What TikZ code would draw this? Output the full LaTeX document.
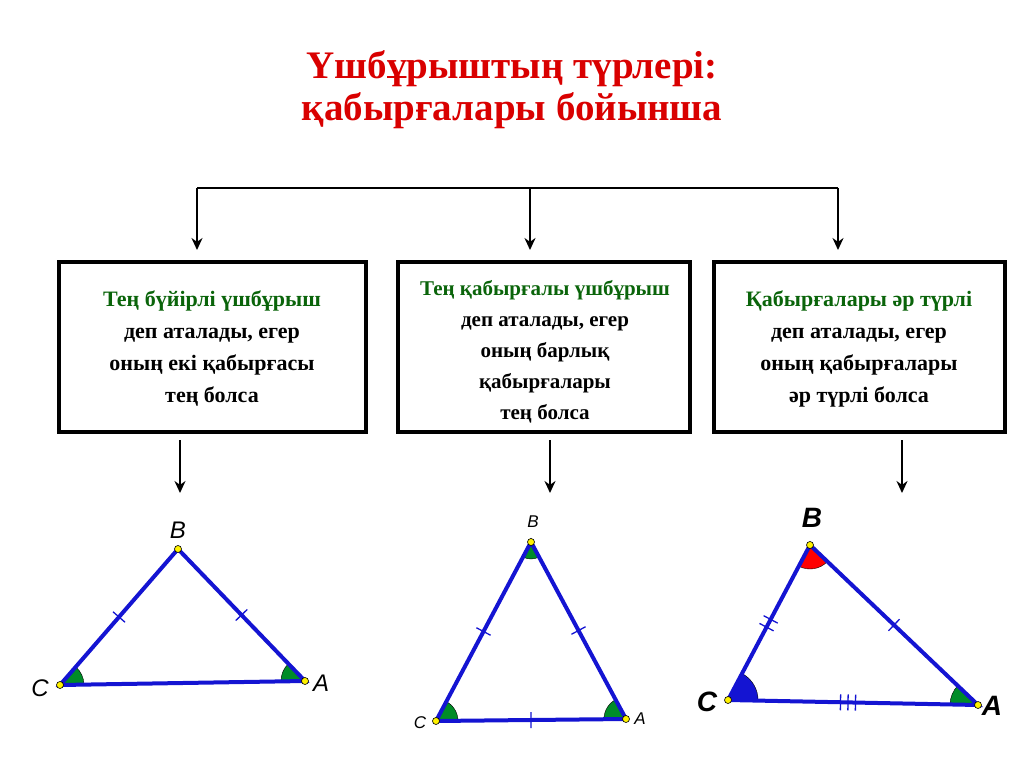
\documentclass[tikz,border=0pt]{standalone}
\usepackage{fontspec}
\setmainfont{Liberation Serif}
\setsansfont{Liberation Sans}
\usetikzlibrary{calc,angles,arrows.meta}
\definecolor{tblue}{RGB}{20,20,210}
\definecolor{tgreen}{RGB}{10,100,10}
\definecolor{agreen}{RGB}{0,140,40}
\tikzset{
 bx/.style={line width=3.2pt},
 conn/.style={line width=2.6pt,-{Stealth[length=12pt,width=11pt]}},
 side/.style={tblue,line width=4pt},
 tick/.style={tblue,line width=1.3pt},
 txt/.style={font=\fontsize{22}{32}\selectfont\bfseries,align=center},
 pt/.style={circle,fill=yellow,draw=black,line width=0.6pt,inner sep=0pt,minimum size=7pt},
 lab/.style={font=\sffamily\itshape\fontsize{24}{24}\selectfont},
}
\newcommand{\tk}[3]{\draw[tick] ($(#1)!#3!(#2)!8pt!90:(#2)$) -- ($(#1)!#3!(#2)!8pt!-90:(#2)$);}
\begin{document}
\begin{tikzpicture}[x=1pt,y=-1pt]
\useasboundingbox (0,0) rectangle (1024,767);
\node[font=\fontsize{39}{42}\selectfont\bfseries,text=red!85!black,align=center] (title) at (512,90) {Үшбұрыштың түрлері:\\қабырғалары бойынша};
% boxes
\draw[bx] (59,262) rectangle (366,432);
\draw[bx] (398,262) rectangle (690,432);
\draw[bx] (714,262) rectangle (1005,432);
\node[txt] (t1) at (212,349) {\textcolor{tgreen}{Тең бүйірлі үшбұрыш}\\деп аталады, егер\\оның екі қабырғасы\\тең болса};
\node[txt,font=\fontsize{21}{31}\selectfont\bfseries] (t2) at (545,352) {\textcolor{tgreen}{Тең қабырғалы үшбұрыш}\\деп аталады, егер\\оның барлық\\қабырғалары\\тең болса};
\node[txt] (t3) at (859,349) {\textcolor{tgreen}{Қабырғалары әр түрлі}\\деп аталады, егер\\оның қабырғалары\\әр түрлі болса};
% connectors
\coordinate (h1) at (197,188); \coordinate (h2) at (530,188); \coordinate (h3) at (838,188);
\coordinate (b1) at (197,250); \coordinate (b2) at (530,250); \coordinate (b3) at (838,250);
\draw[line width=2.6pt] (h1) -- (h3);
\draw[conn] (h1) -- (b1); \draw[conn] (h2) -- (b2); \draw[conn] (h3) -- (b3);
\coordinate (u1) at (180,440); \coordinate (d1) at (180,493);
\coordinate (u2) at (550,440); \coordinate (d2) at (550,493);
\coordinate (u3) at (902,440); \coordinate (d3) at (902,493);
\draw[conn] (u1) -- (d1); \draw[conn] (u2) -- (d2); \draw[conn] (u3) -- (d3);
% triangle 1
\coordinate (B1) at (178,549); \coordinate (C1) at (60,685); \coordinate (A1) at (305,681);
\pic[fill=agreen,draw=black,line width=0.4pt,angle radius=24pt]{angle=A1--C1--B1};
\pic[fill=agreen,draw=black,line width=0.4pt,angle radius=24pt]{angle=B1--A1--C1};
\draw[side] (B1) -- (C1) -- (A1) -- cycle;
\tk{C1}{B1}{0.5} \tk{B1}{A1}{0.5}
\node[pt] at (B1) {}; \node[pt] at (C1) {}; \node[pt] at (A1) {};
\node[lab] at (178,530) {B}; \node[lab] at (40,688) {C}; \node[lab] at (321,683) {A};
% triangle 2
\coordinate (B2) at (531,542); \coordinate (C2) at (436,721); \coordinate (A2) at (626,719);
\pic[fill=agreen,draw=black,line width=0.4pt,angle radius=22pt]{angle=A2--C2--B2};
\pic[fill=agreen,draw=black,line width=0.4pt,angle radius=22pt]{angle=B2--A2--C2};
\pic[fill=agreen,draw=black,line width=0.4pt,angle radius=17pt]{angle=C2--B2--A2};
\draw[side] (B2) -- (C2) -- (A2) -- cycle;
\tk{C2}{B2}{0.5} \tk{B2}{A2}{0.5} \tk{C2}{A2}{0.5}
\node[pt] at (B2) {}; \node[pt] at (C2) {}; \node[pt] at (A2) {};
\node[lab,font=\sffamily\itshape\fontsize{17}{17}\selectfont] at (533,522) {B};
\node[lab,font=\sffamily\itshape\fontsize{17}{17}\selectfont] at (420,723) {C};
\node[lab,font=\sffamily\itshape\fontsize{17}{17}\selectfont] at (640,719) {A};
% triangle 3
\coordinate (B3) at (810,545); \coordinate (C3) at (728,700); \coordinate (A3) at (978,705);
\pic[fill=tblue,draw=black,line width=0.4pt,angle radius=30pt]{angle=A3--C3--B3};
\pic[fill=agreen,draw=black,line width=0.4pt,angle radius=28pt]{angle=B3--A3--C3};
\pic[fill=red,draw=black,line width=0.4pt,angle radius=24pt]{angle=C3--B3--A3};
\draw[side] (B3) -- (C3) -- (A3) -- cycle;
\tk{C3}{B3}{0.47} \tk{C3}{B3}{0.52}
\tk{B3}{A3}{0.5}
\tk{C3}{A3}{0.45} \tk{C3}{A3}{0.48} \tk{C3}{A3}{0.51}
\node[pt] at (B3) {}; \node[pt] at (C3) {}; \node[pt] at (A3) {};
\node[lab,font=\sffamily\bfseries\itshape\fontsize{28}{28}\selectfont] at (812,518) {B};
\node[lab,font=\sffamily\bfseries\itshape\fontsize{28}{28}\selectfont] at (707,702) {C};
\node[lab,font=\sffamily\bfseries\itshape\fontsize{28}{28}\selectfont] at (992,706) {A};
\end{tikzpicture}
\end{document}
